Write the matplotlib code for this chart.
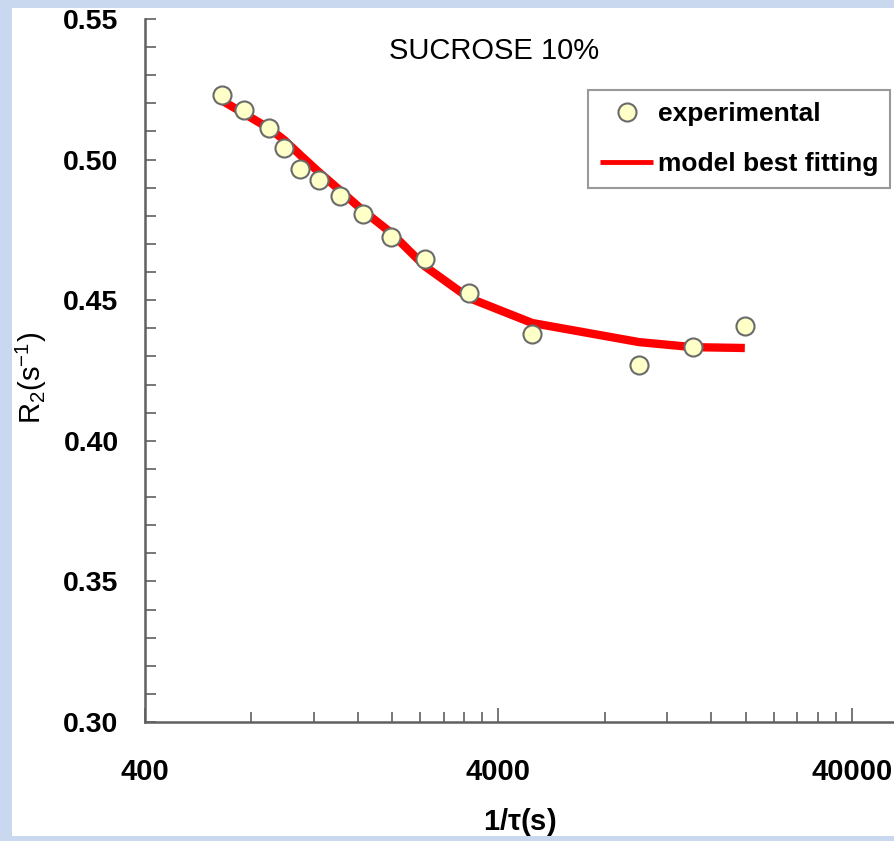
import matplotlib
matplotlib.use("Agg")
import matplotlib.pyplot as plt
from matplotlib.patches import Rectangle
from matplotlib.ticker import FixedLocator, NullFormatter, MultipleLocator

plt.rcParams['font.family'] = ['Liberation Sans', 'DejaVu Sans']

# 1/tau (s) i R2 (1/s)
tau_inv = [660, 760, 900, 990, 1100, 1240, 1420, 1650, 1990, 2480, 3300, 4980, 9990, 14200, 19900]
r2_exp = [0.523, 0.5176, 0.5112, 0.5041, 0.4966, 0.4927, 0.4870, 0.4806, 0.4725, 0.4646,
          0.4525, 0.4380, 0.4269, 0.4333, 0.4408]
r2_model = [0.5210, 0.5165, 0.5110, 0.5070, 0.5016, 0.4956, 0.4892, 0.4820, 0.4739, 0.4620,
            0.4508, 0.4419, 0.4351, 0.4333, 0.4330]

fig = plt.figure(figsize=(8.95, 8.41), dpi=100, facecolor='#C9D8EE')
fig.patches.append(Rectangle((12 / 895, 5 / 841), 883 / 895, 828 / 841,
                             transform=fig.transFigure, facecolor='white',
                             edgecolor='none', zorder=-10))

ax = fig.add_axes([145 / 895, 1 - 722 / 841, 750 / 895, 703 / 841])
ax.set_facecolor('none')

ax.plot(tau_inv, r2_model, color='#FF0000', lw=6, solid_capstyle='butt',
        label='model best fitting', zorder=2)
ax.plot(tau_inv, r2_exp, 'o', ms=13, mfc='#FFFFC8', mec='#6A6A6A', mew=1.5,
        label='experimental', zorder=3)

ax.set_xscale('log')
ax.set_xlim(400, 400 * 10 ** (750 / 353.5))
ax.set_ylim(0.30, 0.55)

ax.xaxis.set_major_locator(FixedLocator([400, 4000, 40000]))
ax.set_xticklabels(['400', '4000', '40000'])
minors = [400 * k * d for d in (1, 10, 100) for k in range(2, 10)]
ax.xaxis.set_minor_locator(FixedLocator(minors))
ax.xaxis.set_minor_formatter(NullFormatter())
ax.yaxis.set_major_locator(MultipleLocator(0.05))
ax.yaxis.set_minor_locator(MultipleLocator(0.01))
ax.set_yticklabels([f'{v:.2f}' for v in ax.get_yticks()])

for s in ('top', 'right'):
    ax.spines[s].set_visible(False)
for s in ('left', 'bottom'):
    ax.spines[s].set_color('#606060')
    ax.spines[s].set_linewidth(1.8)

ax.tick_params(which='both', direction='in', color='#606060', width=1.2)
ax.tick_params(axis='y', which='both', length=8)
ax.tick_params(axis='x', which='major', length=10)
ax.tick_params(axis='x', which='minor', length=7)
ax.tick_params(axis='y', which='major', labelsize=20.5, pad=19)
ax.tick_params(axis='x', which='major', labelsize=21, pad=26)
for lab in ax.get_xticklabels() + ax.get_yticklabels():
    lab.set_fontweight('bold')

ax.set_xlabel(r'1/$\mathregular{\tau}$(s)', fontsize=21, fontweight='bold', labelpad=14)
ax.set_ylabel(r'R$_\mathregular{2}$(s$^\mathregular{-1}$)', fontsize=21)
ax.yaxis.set_label_coords(-0.128, 0.49)

ax.text(0.465, 0.955, 'SUCROSE 10%', transform=ax.transAxes, ha='center', va='center',
        fontsize=21)

handles, labels = ax.get_legend_handles_labels()
leg = ax.legend(handles[::-1], labels[::-1], loc='upper right', bbox_to_anchor=(0.994, 0.899),
                prop={'weight': 'bold', 'size': 19}, frameon=True, fancybox=False,
                edgecolor='#808080', handlelength=2.0, handletextpad=0.2,
                borderpad=0.45, labelspacing=1.0, borderaxespad=0)
leg.get_frame().set_linewidth(1.5)
leg.get_lines()[1].set_linewidth(3.5)

fig.savefig('out.png', dpi=100, facecolor=fig.get_facecolor())
